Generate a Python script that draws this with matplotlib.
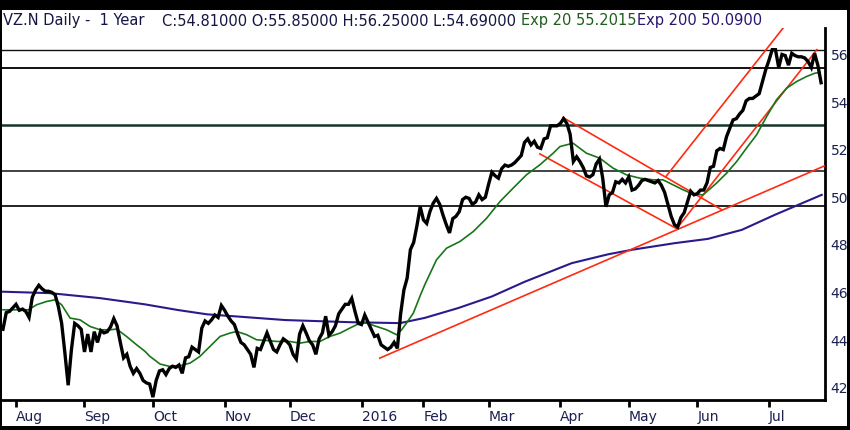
import matplotlib
matplotlib.use("Agg")
import matplotlib.pyplot as plt
from matplotlib.patches import Rectangle

# ---------------- data (x = trading-day index, 0 = 28 Jul 2015) ----------------
close = [
    44.45, 45.15, 45.2, 45.35, 45.5, 45.25, 45.3, 45.2, 44.95, 45.8,
    46.1, 46.3, 46.15, 46.05, 46.05, 46.0, 45.9, 45.4, 44.7, 43.45,
    42.1, 43.6, 44.7, 44.6, 44.45, 43.5, 44.25, 43.5, 44.35, 43.9,
    44.4, 44.3, 44.35, 44.55, 44.9, 44.6, 43.9, 43.25, 43.4, 42.9,
    42.6, 42.8, 42.6, 42.3, 42.2, 42.15, 41.6, 42.3, 42.7, 42.75,
    42.55, 42.8, 42.9, 42.85, 42.95, 42.6, 43.25, 43.3, 43.7, 43.6,
    43.5, 44.5, 44.8, 44.7, 44.85, 45.05, 44.95, 45.45, 45.25, 45.0,
    44.8, 44.65, 44.25, 43.9, 43.8, 43.6, 43.4, 42.85, 43.65, 43.6,
    43.95, 44.3, 43.95, 43.6, 43.5, 43.8, 44.05, 43.95, 43.8, 43.4,
    43.2, 44.25, 44.6, 44.3, 43.97, 43.8, 43.4, 44.05, 44.3, 45.0,
    44.2, 44.35, 44.6, 45.1, 45.3, 45.5, 45.5, 45.75, 45.2, 44.7,
    44.65, 45.05, 44.75, 44.45, 44.15, 44.2, 43.8, 43.7, 43.6, 43.7,
    43.9, 43.65, 45.1, 46.1, 46.6, 47.8, 48.1, 48.8, 49.6, 49.05,
    48.9, 49.4, 49.75, 49.95, 49.7, 49.25, 48.85, 48.5, 49.1, 49.2,
    49.4, 49.9, 50.0, 49.95, 49.7, 49.8, 50.1, 49.9, 50.0, 50.55,
    51.05, 50.9, 50.8, 51.2, 51.35, 51.3, 51.35, 51.45, 51.6, 51.75,
    52.3, 52.45, 52.2, 52.35, 52.1, 52.05, 52.45, 52.5, 53.0, 53.0,
    53.0, 53.1, 53.3, 53.1, 52.65, 51.5, 51.7, 51.5, 51.25, 50.9,
    50.85, 50.95, 51.4, 51.6, 50.8, 49.6, 50.1, 50.2, 50.65, 50.6,
    50.75, 50.6, 50.85, 50.3, 50.35, 50.5, 50.7, 50.75, 50.7, 50.65,
    50.6, 50.7, 50.5, 50.2, 49.7, 49.2, 48.85, 48.75, 49.15, 49.35,
    49.8, 50.25, 50.1, 50.15, 50.3, 50.3, 50.6, 51.25, 51.3, 51.95,
    52.05, 52.0, 52.55, 52.9, 53.25, 53.3, 53.5, 53.65, 54.05, 54.15,
    54.15, 54.25, 54.35, 54.85, 55.35, 55.75, 56.2, 56.2, 55.45, 56.0,
    55.95, 55.55, 56.05, 55.95, 55.9, 55.9, 55.85, 55.7, 55.45, 56.05,
    55.55, 54.81,
]

ema20_x = [0, 4.2, 7.8, 10.3, 13.4, 16.0, 18.0, 20.6, 23.6, 26.7, 29.8, 32.8,
           34.9, 37.9, 41.0, 43.6, 45.1, 48.2, 51.2, 54.3, 57.4, 60.4, 63.5,
           66.6, 69.6, 71.7, 74.8, 77.8, 80.9, 84.0, 88.0, 91.1, 94.2, 97.2,
           100.3, 103.4, 106.4, 109.5, 111.6, 114.6, 117.7, 120.8, 122.3,
           123.8, 125.9, 127.9, 129.4, 133.0, 136.1, 140.2, 144.3, 148.4,
           152.5, 156.5, 160.6, 164.7, 168.8, 170.9, 174.9, 179.0, 183.1,
           187.2, 191.3, 195.4, 199.5, 202.5, 205.6, 208.7, 211.7, 214.8,
           218.9, 222.0, 225.1, 228.1, 231.2, 234.3, 237.3, 240.4, 243.5,
           246.5, 249.1, 250.6]
ema20_v = [45.27, 45.27, 45.27, 45.48, 45.62, 45.69, 45.48, 44.92, 44.85, 44.57,
           44.43, 44.43, 44.46, 44.15, 43.80, 43.52, 43.31, 42.99, 42.89, 42.92,
           43.03, 43.31, 43.73, 44.15, 44.29, 44.36, 44.22, 44.01, 43.98, 43.94,
           43.94, 43.87, 43.94, 43.94, 44.15, 44.29, 44.50, 44.71, 44.71, 44.57,
           44.43, 44.22, 44.43, 44.71, 45.13, 45.83, 46.32, 47.37, 47.86, 48.14,
           48.56, 49.12, 49.82, 50.38, 50.94, 51.36, 51.85, 52.13, 52.27, 51.85,
           51.64, 51.22, 50.94, 50.80, 50.73, 50.73, 50.52, 50.31, 50.13, 50.10,
           50.59, 51.01, 51.50, 52.06, 52.62, 53.39, 54.09, 54.58, 54.86, 55.07,
           55.21, 55.24]

ema200_x = [0, 14.4, 29.8, 43.5, 53.7, 62.6, 72.7, 86.5, 106.4, 121.8, 129.4,
            139.6, 150.0, 160.1, 174.5, 185.6, 192.9, 206.1, 216.3, 226.7,
            236.8, 251.2]
ema200_v = [46.03, 45.97, 45.76, 45.50, 45.26, 45.08, 44.98, 44.84, 44.75, 44.71,
            44.93, 45.34, 45.83, 46.45, 47.23, 47.60, 47.79, 48.07, 48.25, 48.63,
            49.26, 50.10]

# red trend lines: (x0, v0, x1, v1)
trend_lines = [
    (115.6, 43.24, 252.1, 51.32),
    (171.8, 53.35, 220.6, 49.47),
    (164.7, 51.82, 206.7, 48.68),
    (203.4, 50.87, 239.3, 57.10),
    (206.7, 48.68, 249.7, 56.20),
]

levels = [56.19, 55.45, 53.04, 51.10, 49.63]

month_pos = [4, 25, 46, 68, 88, 110, 129, 149, 171, 192, 213, 235]
month_lbl = ["Aug", "Sep", "Oct", "Nov", "Dec", "2016", "Feb", "Mar", "Apr",
             "May", "Jun", "Jul"]
y_ticks = [42, 44, 46, 48, 50, 52, 54, 56]

# ---------------- figure ----------------
W, H = 850, 430
fig = plt.figure(figsize=(W / 100, H / 100), dpi=100, facecolor="black")
fig.patches.append(Rectangle((2 / W, 4 / H), 845 / W, 416 / H,
                             transform=fig.transFigure, facecolor="white",
                             edgecolor="none", zorder=-10))

# axes: x 2..825 px, y 28..400 px (from top)
ax = fig.add_axes([2 / W, 30 / H, 823 / W, 372 / H])
ax.set_zorder(5)
ax.set_facecolor("white")
ax.set_xlim(-0.3, 252.2)
ax.set_ylim(41.48, 57.11)

for lv, lw, col in zip(levels, [1.0, 1.4, 1.8, 1.2, 1.3],
                       ["#111111", "#111111", "#16352c", "#222222", "#111111"]):
    ax.axhline(lv, color=col, lw=lw, zorder=1)

ax.plot(ema200_x, ema200_v, color="#2b1a8c", lw=1.5, zorder=2)
for x0, v0, x1, v1 in trend_lines:
    ax.plot([x0, x1], [v0, v1], color="#ff2a10", lw=1.2, zorder=3)
ax.plot(ema20_x, ema20_v, color="#17761a", lw=1.2, zorder=4)
ax.plot(range(len(close)), close, color="black", lw=2.4, zorder=5,
        solid_joinstyle="miter")

for s in ["left", "top"]:
    ax.spines[s].set_visible(False)
for s in ["bottom", "right"]:
    ax.spines[s].set_linewidth(2)
    ax.spines[s].set_color("black")

ax.set_xticks(month_pos)
ax.set_xticklabels(month_lbl)
ax.tick_params(axis="x", direction="out", length=5, width=2, color="black",
               pad=2, labelsize=10, labelcolor="#1a2050")
for lbl in ax.get_xticklabels():
    lbl.set_horizontalalignment("left")

ax.yaxis.tick_right()
ax.set_yticks(y_ticks)
ax.set_yticklabels([str(v) for v in y_ticks])
ax.tick_params(axis="y", length=0, pad=4, labelsize=10, labelcolor="#1a2050")

# header
hy = 1 - 21 / H
fig.text(3 / W, hy, "VZ.N Daily -  1 Year", color="#151545", fontsize=10.5,
         va="center", ha="left", zorder=10)
fig.text(162 / W, hy, "C:54.81000 O:55.85000 H:56.25000 L:54.69000",
         color="#151545", fontsize=10.5, va="center", ha="left", zorder=10)
fig.text(521 / W, hy, "Exp 20 55.2015", color="#1d5e1d", fontsize=10.5,
         va="center", ha="left", zorder=10)
fig.text(637 / W, hy, "Exp 200 50.0900", color="#2a1570", fontsize=10.5,
         va="center", ha="left", zorder=10)

fig.savefig("out.png", dpi=100, facecolor="black")
